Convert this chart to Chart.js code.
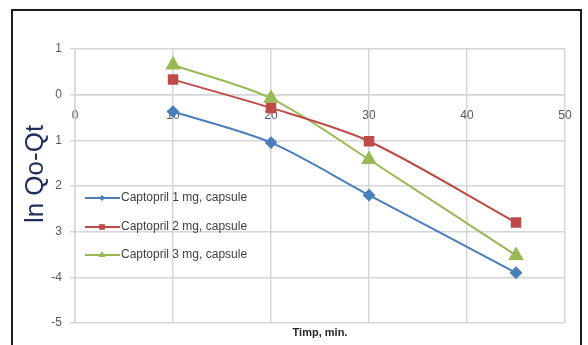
<!DOCTYPE html>
<html>
<head>
<meta charset="utf-8">
<script src="https://cdn.jsdelivr.net/npm/chart.js@4/dist/chart.umd.min.js"></script>
<style>
  html, body { margin: 0; padding: 0; background: #fff; }
  #wrap { position: relative; width: 588px; height: 345px; overflow: hidden; }
  #frame { position: absolute; left: 11px; top: 9px; width: 567px; height: 400px; border: 2px solid #1c1c1c; }
  canvas { position: absolute; left: 0; top: 0; }
</style>
</head>
<body>
<div id="wrap">
  <div id="frame"></div>
  <canvas id="chart" width="588" height="345"></canvas>
</div>
<script>
// time points (min) and ln(Q0-Qt) for each capsule strength
const times = [10, 20, 30, 45];
const caps1 = [-0.37, -1.05, -2.2, -3.9];
const caps2 = [0.33, -0.29, -1.02, -2.8];
const caps3 = [0.65, -0.08, -1.42, -3.52];

const seriesNames = ['Captopril 1 mg, capsule', 'Captopril 2 mg, capsule', 'Captopril 3 mg, capsule'];
const seriesColors = ['#4a7ebb', '#be4b48', '#98b954'];
const seriesMarkers = ['rectRot', 'rect', 'triangle'];

const xTicks = [0, 10, 20, 30, 40, 50];
const yTicks = [1, 0, -1, -2, -3, -4, -5];
const yTickText = ['1', '0', '1', '2', '3', '-4', '-5'];

const FONT = '"Liberation Sans", Arial, sans-serif';
const GRID = '#d6d6d6';

function pts(ys) {
  return times.map((t, i) => ({ x: t, y: ys[i] }));
}

const allSeries = [caps1, caps2, caps3];
const datasets = allSeries.map((ys, i) => ({
  label: seriesNames[i],
  data: pts(ys),
  borderColor: seriesColors[i],
  backgroundColor: seriesColors[i],
  borderWidth: 2,
  pointStyle: seriesMarkers[i],
  pointRadius: i === 0 ? 5 : (i === 1 ? 6 : 7),
  pointHoverRadius: 6,
  tension: 0.3,
  fill: false
}));

// legend drawn inside the plot area, lower left
const insideLegend = {
  id: 'insideLegend',
  afterDraw(chart) {
    const ctx = chart.ctx;
    const rows = [198, 227, 255];
    ctx.save();
    chart.data.datasets.forEach((ds, i) => {
      const y = rows[i];
      ctx.strokeStyle = ds.borderColor;
      ctx.lineWidth = 2;
      ctx.beginPath();
      ctx.moveTo(85, y);
      ctx.lineTo(120, y);
      ctx.stroke();
      ctx.fillStyle = ds.backgroundColor;
      Chart.helpers.drawPoint(ctx, {
        pointStyle: ds.pointStyle,
        radius: i === 0 ? 3 : 4,
        rotation: 0,
        borderWidth: 0
      }, 102, y);
      ctx.fillStyle = '#404040';
      ctx.font = '12px ' + FONT;
      ctx.textBaseline = 'middle';
      ctx.textAlign = 'left';
      ctx.fillText(ds.label, 121, y);
    });
    ctx.restore();
  }
};

// axis titles: x under the plot (the axis itself crosses at y = 0), y rotated on the left
const axisTitles = {
  id: 'axisTitles',
  afterDraw(chart) {
    const ctx = chart.ctx;
    const a = chart.chartArea;
    ctx.save();
    ctx.fillStyle = '#262626';
    ctx.font = 'bold 11px ' + FONT;
    ctx.textAlign = 'center';
    ctx.textBaseline = 'middle';
    ctx.fillText('Timp, min.', (a.left + a.right) / 2, 333);

    ctx.translate(33, 174);
    ctx.rotate(-Math.PI / 2);
    ctx.fillStyle = '#1f2d5c';
    ctx.font = '26px ' + FONT;
    ctx.textBaseline = 'alphabetic';
    ctx.fillText('ln Qo-Qt', 0, 10);
    ctx.restore();
  }
};

new Chart(document.getElementById('chart'), {
  type: 'line',
  data: { datasets },
  options: {
    responsive: false,
    animation: false,
    layout: { padding: { top: 49, right: 23, bottom: 22, left: 0 } },
    plugins: { legend: { display: false }, tooltip: { enabled: false } },
    scales: {
      x: {
        type: 'linear',
        position: { y: 0 },
        min: 0, max: 50,
        afterBuildTicks: s => { s.ticks = xTicks.map(v => ({ value: v })); },
        grid: { color: GRID, lineWidth: 1.5, drawTicks: false },
        border: { color: GRID, width: 1.5 },
        ticks: { color: '#595959', font: { family: FONT, size: 12 }, padding: 14, maxRotation: 0 }
      },
      y: {
        min: -5, max: 1,
        afterBuildTicks: s => { s.ticks = yTicks.map(v => ({ value: v })); },
        afterFit: s => { s.width = 75; },
        grid: { color: GRID, lineWidth: 1.5, tickLength: 5 },
        border: { color: GRID, width: 1.5 },
        ticks: {
          color: '#595959',
          font: { family: FONT, size: 12 },
          padding: 8,
          callback: v => yTickText[yTicks.indexOf(v)]
        }
      }
    }
  },
  plugins: [insideLegend, axisTitles]
});
</script>
</body>
</html>
